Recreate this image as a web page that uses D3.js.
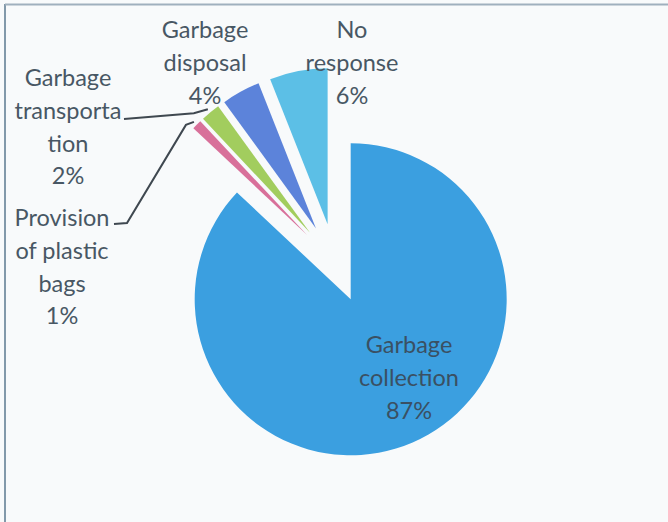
<!DOCTYPE html>
<html>
<head>
<meta charset="utf-8">
<script src="https://cdn.jsdelivr.net/npm/d3@7/dist/d3.min.js"></script>
<style>
  html, body { margin: 0; padding: 0; background: #f8fafb; }
  svg { display: block; }
</style>
</head>
<body>
<svg id="chart" width="668" height="522"></svg>
<script>
// Survey responses: services wanted for waste management
const categories = ["Garbage collection", "Provision of plastic bags", "Garbage transportation", "Garbage disposal", "No response"];
const values = [87, 1, 2, 4, 6];
const labelLines = [
  ["Garbage", "collection"],
  ["Provision", "of plastic", "bags"],
  ["Garbage", "transporta", "tion"],
  ["Garbage", "disposal"],
  ["No", "response"]
];
const colors = ["#3b9fe0", "#d8709a", "#a2cd5e", "#5c83da", "#5cbfe6"];

// layout
const W = 668, H = 522;
const cx = 335, cy = 263, radius = 156, explode = 39.5;
const lineGap = 32.7;
// centre of the first text line for each label
const labelAnchor = [[409, 345], [62, 218], [68, 78], [205, 30], [352, 30]];
// label edge where a leader line starts (null = no leader)
const leaderStart = [null, [114, 224], [124, 119], null, null];

const svg = d3.select("#chart");

// frame
svg.append("rect").attr("width", W).attr("height", H).attr("fill", "#f8fafb");
svg.append("line").attr("x1", 5).attr("x2", 5).attr("y1", 4).attr("y2", H)
  .attr("stroke", "#8299aa").attr("stroke-width", 2);
svg.append("line").attr("x1", 5).attr("x2", W).attr("y1", 4.5).attr("y2", 4.5)
  .attr("stroke", "#9fb0be").attr("stroke-width", 2);

const data = categories.map((c, i) => ({ name: c, value: values[i], i }));
const pie = d3.pie().sort(null).value(d => d.value).startAngle(0).endAngle(2 * Math.PI);
const arcs = pie(data);
const arc = d3.arc().innerRadius(0).outerRadius(radius);

const offset = a => {
  const mid = (a.startAngle + a.endAngle) / 2;
  return [Math.sin(mid) * explode, -Math.cos(mid) * explode];
};

const g = svg.append("g").attr("transform", `translate(${cx},${cy})`);
g.selectAll("path.slice").data(arcs).join("path")
  .attr("class", "slice")
  .attr("d", arc)
  .attr("fill", d => colors[d.data.i])
  .attr("transform", d => { const o = offset(d); return `translate(${o[0]},${o[1]})`; });

// leader lines for the thin slices
arcs.forEach(a => {
  const s = leaderStart[a.data.i];
  if (!s) return;
  const mid = (a.startAngle + a.endAngle) / 2;
  const o = offset(a);
  const ex = cx + o[0] + Math.sin(mid) * (radius + 4);
  const ey = cy + o[1] - Math.cos(mid) * (radius + 4);
  let pts;
  if (a.data.i === 1) {
    pts = [s, [s[0] + 13, s[1] - 1], [ex - 8, ey + 3], [ex, ey]];
  } else {
    pts = [s, [ex - 14, ey + 4], [ex, ey]];
  }
  svg.append("path")
    .attr("d", d3.line()(pts))
    .attr("fill", "none")
    .attr("stroke", "#3f4850")
    .attr("stroke-width", 2);
});

// labels
arcs.forEach(a => {
  const i = a.data.i;
  const lines = labelLines[i].concat([`${a.data.value}%`]);
  const [lx, ly] = labelAnchor[i];
  const t = svg.append("text")
    .attr("font-family", "Lato, 'Open Sans', sans-serif")
    .attr("font-size", 23.5)
    .attr("fill", i === 0 ? "#3a5063" : "#485764")
    .attr("text-anchor", "middle");
  lines.forEach((ln, k) => {
    t.append("tspan")
      .attr("x", lx)
      .attr("y", ly + k * lineGap)
      .attr("dy", "0.35em")
      .text(ln);
  });
});
</script>
</body>
</html>
